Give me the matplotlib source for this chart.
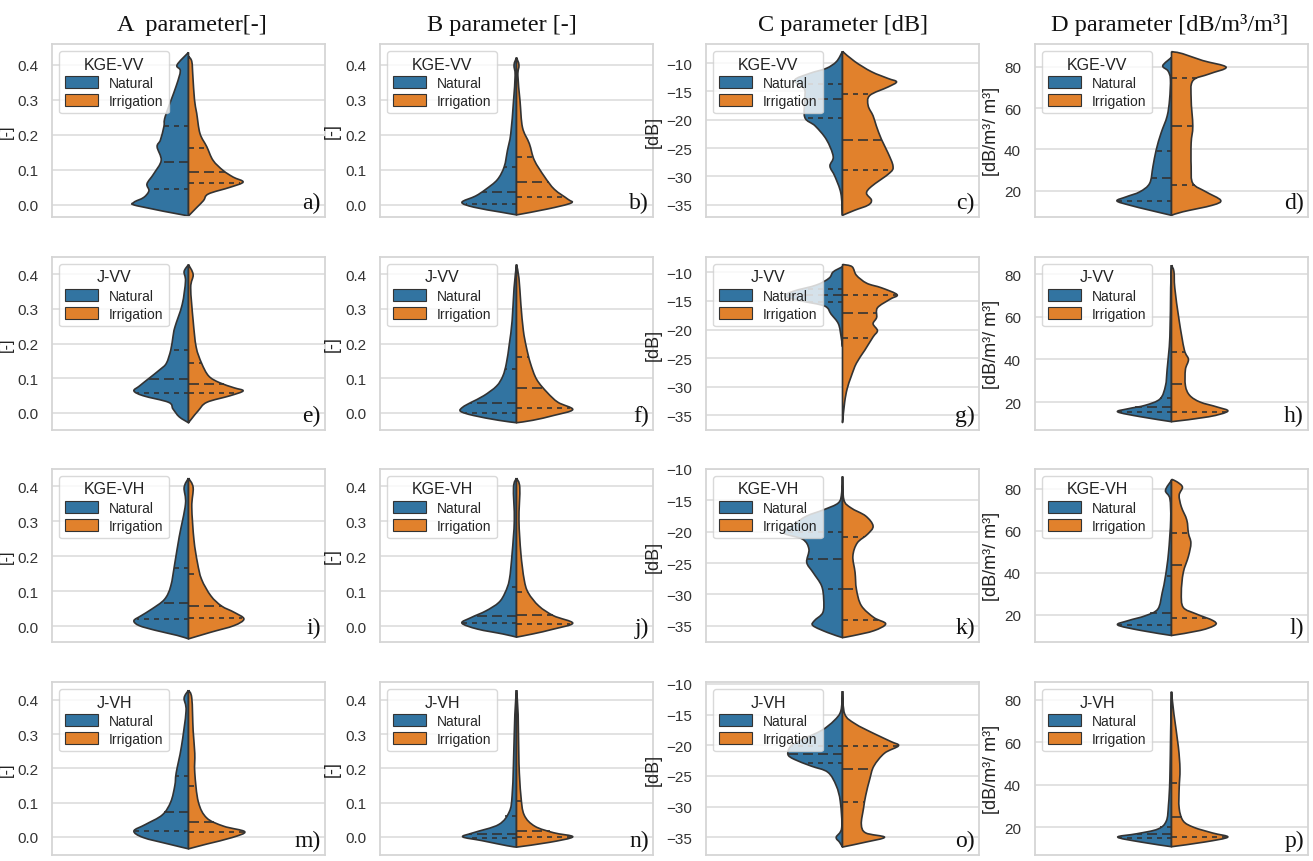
import numpy as np
import matplotlib
matplotlib.use("Agg")
import matplotlib.pyplot as plt
from matplotlib.patches import Patch, PathPatch
from matplotlib.path import Path
import seaborn as sns

sns.set_theme(style="whitegrid")
plt.rcParams['font.family'] = ['Liberation Sans', 'DejaVu Sans']

# ---------------- data: violin density profiles (value, relative density) ----------------
col_titles = ["A  parameter[-]", "B parameter [-]", "C parameter [dB]", "D parameter [dB/m³/m³]"]
row_legends = ["KGE-VV", "J-VV", "KGE-VH", "J-VH"]
groups = ["Natural", "Irrigation"]
ylabels = ["[-]", "[-]", "[dB]", "[dB/m³/ m³]"]
letters = list("abcdefghijklmnop")

# a) A, KGE-VV
a_nat_y = [0.436, 0.40, 0.383, 0.34, 0.253, 0.224, 0.185, 0.166, 0.127, 0.089, 0.06, 0.04, 0.021, 0.007, -0.003, -0.032]
a_nat_d = [0, 0.042, 0.03, 0.045, 0.085, 0.09, 0.103, 0.115, 0.10, 0.127, 0.152, 0.145, 0.164, 0.20, 0.188, 0]
a_nat_q = [0.044, 0.122, 0.225]
a_irr_y = [0.425, 0.41, 0.368, 0.30, 0.262, 0.204, 0.166, 0.127, 0.098, 0.079, 0.065, 0.05, 0.031, 0.012, -0.008, -0.032]
a_irr_d = [0, 0.012, 0.016, 0.022, 0.03, 0.042, 0.067, 0.09, 0.127, 0.164, 0.20, 0.152, 0.073, 0.055, 0.03, 0]
a_irr_q = [0.061, 0.094, 0.163]
# b) B, KGE-VV
b_nat_y = [0.421, 0.40, 0.37, 0.296, 0.203, 0.156, 0.109, 0.072, 0.044, 0.025, 0.007, -0.007, -0.021, -0.029]
b_nat_d = [0, 0.009, 0.005, 0.011, 0.021, 0.033, 0.045, 0.07, 0.113, 0.15, 0.20, 0.156, 0.058, 0]
b_nat_q = [0.002, 0.037, 0.107]
b_irr_y = [0.421, 0.40, 0.37, 0.296, 0.221, 0.175, 0.128, 0.081, 0.044, 0.016, 0.005, -0.012, -0.029]
b_irr_d = [0, 0.009, 0.005, 0.013, 0.022, 0.047, 0.065, 0.102, 0.139, 0.188, 0.20, 0.114, 0]
b_irr_q = [0.022, 0.065, 0.136]
# c) C, KGE-VV
c_nat_y = [-7.9, -9.7, -10.9, -11.8, -13.0, -14.5, -16.3, -19.6, -21.1, -23.5, -26.5, -28.2, -30.0, -33.0, -36.9]
c_nat_d = [0, 0.022, 0.059, 0.12, 0.175, 0.14, 0.138, 0.138, 0.10, 0.059, 0.034, 0.046, 0.028, 0.006, 0]
c_nat_q = [-19.7, -16.3, -13.6]
c_irr_y = [-7.9, -9.7, -11.5, -12.7, -13.3, -14.2, -15.7, -17.5, -19.3, -21.1, -23.5, -25.9, -28.2, -29.4, -31.8, -33.0, -34.2, -35.1, -36.0, -36.9]
c_irr_d = [0, 0.045, 0.106, 0.167, 0.198, 0.167, 0.10, 0.094, 0.112, 0.124, 0.143, 0.167, 0.185, 0.173, 0.106, 0.088, 0.106, 0.094, 0.045, 0]
c_irr_q = [-28.8, -23.5, -15.5]
# d) D, KGE-VV
d_nat_y = [84.5, 80.5, 78, 74, 64.2, 56.1, 48, 39.8, 31.7, 23.6, 19.5, 17.1, 15.1, 13, 10.6, 8.1]
d_nat_d = [0, 0.032, 0.013, 0.004, 0.007, 0.016, 0.038, 0.056, 0.068, 0.08, 0.116, 0.165, 0.20, 0.153, 0.08, 0]
d_nat_q = [15, 26, 39]
d_irr_y = [87.3, 87.1, 86.3, 83, 79.8, 76.5, 73.2, 64.3, 51.3, 43.2, 31.7, 23.6, 19.5, 15.4, 13, 9.8, 8.1]
d_irr_d = [0, 0.011, 0.041, 0.114, 0.20, 0.138, 0.078, 0.072, 0.078, 0.072, 0.072, 0.078, 0.126, 0.18, 0.15, 0.041, 0]
d_irr_q = [23, 51.5, 74.5]
# e) A, J-VV
e_nat_y = [0.428, 0.408, 0.38, 0.313, 0.247, 0.219, 0.181, 0.143, 0.125, 0.096, 0.077, 0.063, 0.049, 0.03, 0.011, -0.012, -0.029]
e_nat_d = [0, 0.016, 0.011, 0.023, 0.05, 0.057, 0.065, 0.081, 0.104, 0.15, 0.18, 0.20, 0.166, 0.073, 0.057, 0.034, 0]
e_nat_q = [0.058, 0.097, 0.182]
e_irr_y = [0.428, 0.399, 0.361, 0.266, 0.19, 0.143, 0.106, 0.087, 0.072, 0.063, 0.049, 0.03, 0.006, -0.017, -0.029]
e_irr_d = [0, 0.017, 0.008, 0.017, 0.028, 0.048, 0.074, 0.113, 0.167, 0.20, 0.152, 0.067, 0.036, 0.012, 0]
e_irr_q = [0.058, 0.082, 0.145]
# f) B, J-VV
f_nat_y = [0.428, 0.36, 0.266, 0.20, 0.143, 0.106, 0.077, 0.049, 0.03, 0.016, 0.004, -0.008, -0.022, -0.029]
f_nat_d = [0, 0.009, 0.016, 0.026, 0.037, 0.05, 0.073, 0.12, 0.166, 0.197, 0.205, 0.158, 0.065, 0]
f_nat_q = [0.0, 0.028, 0.125]
f_irr_y = [0.428, 0.389, 0.313, 0.238, 0.19, 0.143, 0.096, 0.058, 0.03, 0.009, -0.008, -0.022, -0.029]
f_irr_d = [0, 0.009, 0.016, 0.025, 0.036, 0.051, 0.074, 0.113, 0.152, 0.206, 0.136, 0.059, 0]
f_irr_q = [0.013, 0.07, 0.162]
# g) C, J-VV
g_nat_y = [-9.0, -9.9, -11.0, -12.2, -13.3, -14.2, -15.0, -15.9, -17.3, -19.0, -21.3, -23.0]
g_nat_d = [0, 0.034, 0.049, 0.095, 0.18, 0.21, 0.15, 0.065, 0.042, 0.015, 0.005, 0]
g_nat_q = [-15.2, -14.0, -12.9]
g_irr_y = [-8.6, -9.0, -10.5, -11.9, -12.7, -13.9, -14.7, -16.2, -17.9, -19.0, -20.2, -21.3, -23.6, -25.9, -28.2, -30.4, -32.7, -36.3]
g_irr_d = [0, 0.035, 0.051, 0.089, 0.143, 0.20, 0.174, 0.128, 0.125, 0.112, 0.128, 0.112, 0.082, 0.051, 0.032, 0.017, 0.008, 0]
g_irr_q = [-21.4, -17.1, -14.0]
# h) D, J-VV
h_nat_y = [84.3, 73.6, 50.6, 35.3, 27.7, 21.5, 18.5, 16.9, 15.4, 13.1, 10.8]
h_nat_d = [0, 0.003, 0.006, 0.016, 0.022, 0.042, 0.096, 0.158, 0.197, 0.112, 0]
h_nat_q = [15.3, 17.5, 22]
h_irr_y = [84.3, 81.2, 73.6, 58.3, 44.5, 40, 35.3, 27.7, 23.1, 20, 17.7, 15.7, 13.1, 10.8]
h_irr_d = [0, 0.009, 0.012, 0.028, 0.047, 0.062, 0.051, 0.051, 0.067, 0.105, 0.167, 0.206, 0.136, 0]
h_irr_q = [15.4, 28.7, 43.5]
# i) A, KGE-VH
i_nat_y = [0.424, 0.397, 0.35, 0.256, 0.181, 0.115, 0.077, 0.049, 0.03, 0.016, 0.002, -0.012, -0.026, -0.036]
i_nat_d = [0, 0.016, 0.011, 0.034, 0.05, 0.065, 0.088, 0.135, 0.174, 0.20, 0.181, 0.119, 0.042, 0]
i_nat_q = [0.022, 0.068, 0.167]
i_irr_y = [0.424, 0.397, 0.341, 0.247, 0.181, 0.134, 0.087, 0.058, 0.04, 0.021, 0.002, -0.017, -0.036]
i_irr_d = [0, 0.017, 0.012, 0.02, 0.033, 0.048, 0.082, 0.121, 0.167, 0.203, 0.167, 0.082, 0]
i_irr_q = [0.024, 0.057, 0.15]
# j) B, KGE-VH
j_nat_y = [0.424, 0.397, 0.303, 0.209, 0.134, 0.096, 0.068, 0.044, 0.025, 0.009, -0.008, -0.022, -0.031]
j_nat_d = [0, 0.011, 0.008, 0.016, 0.026, 0.042, 0.065, 0.112, 0.166, 0.20, 0.143, 0.05, 0]
j_nat_q = [0.008, 0.03, 0.113]
j_irr_y = [0.424, 0.397, 0.303, 0.209, 0.134, 0.096, 0.058, 0.03, 0.009, -0.008, -0.022, -0.031]
j_irr_d = [0, 0.012, 0.009, 0.016, 0.028, 0.043, 0.082, 0.136, 0.206, 0.136, 0.059, 0]
j_irr_q = [0.007, 0.031, 0.097]
# k) C, KGE-VH
k_nat_y = [-11.2, -13.8, -15.4, -16.5, -17.5, -18.8, -20.2, -21.2, -22.8, -24.9, -26.5, -28.6, -30.7, -32.9, -34.2, -35.0, -36.1, -36.9]
k_nat_d = [0, 0.003, 0.015, 0.069, 0.131, 0.177, 0.215, 0.146, 0.123, 0.131, 0.108, 0.077, 0.069, 0.072, 0.103, 0.108, 0.054, 0]
k_nat_q = [-29.1, -24.3, -20.1]
k_irr_y = [-11.2, -14.9, -16.2, -17.5, -19.1, -20.4, -21.8, -23.9, -26.5, -29.2, -31.8, -33.7, -34.7, -35.8, -36.6, -36.9]
k_irr_d = [0, 0.005, 0.031, 0.085, 0.112, 0.092, 0.054, 0.038, 0.046, 0.051, 0.069, 0.115, 0.158, 0.115, 0.038, 0]
k_irr_q = [-34.1, -29.1, -20.9]
# l) D, KGE-VH
l_nat_y = [84, 79.2, 75.3, 65.1, 49.4, 38.4, 30.5, 22.7, 19.5, 17.2, 15.1, 12.5, 10.1]
l_nat_d = [0, 0.022, 0.006, 0.003, 0.011, 0.022, 0.034, 0.05, 0.096, 0.158, 0.197, 0.112, 0]
l_nat_q = [15.2, 20.8, 38.5]
l_irr_y = [84.5, 83.3, 80.8, 76.9, 71.4, 65.1, 58.8, 54.1, 47.8, 40, 30.5, 23.5, 20.4, 17.2, 15.1, 12.5, 10.1]
l_irr_d = [0, 0.02, 0.04, 0.028, 0.036, 0.056, 0.062, 0.071, 0.062, 0.043, 0.036, 0.043, 0.09, 0.152, 0.16, 0.105, 0]
l_irr_q = [18.5, 43.8, 59]
# m) A, J-VH
m_nat_y = [0.428, 0.405, 0.367, 0.263, 0.187, 0.15, 0.102, 0.064, 0.036, 0.017, -0.002, -0.021, -0.035]
m_nat_d = [0, 0.016, 0.009, 0.026, 0.045, 0.05, 0.065, 0.096, 0.158, 0.20, 0.166, 0.073, 0]
m_nat_q = [0.018, 0.072, 0.177]
m_irr_y = [0.428, 0.405, 0.31, 0.244, 0.187, 0.102, 0.055, 0.031, 0.015, -0.002, -0.021, -0.035]
m_irr_d = [0, 0.012, 0.017, 0.023, 0.023, 0.036, 0.067, 0.129, 0.206, 0.16, 0.067, 0]
m_irr_q = [0.015, 0.042, 0.148]
# n) B, J-VH
n_nat_y = [0.428, 0.357, 0.215, 0.121, 0.074, 0.036, 0.012, 0.0, -0.011, -0.026, -0.03]
n_nat_d = [0, 0.006, 0.011, 0.016, 0.026, 0.065, 0.158, 0.197, 0.127, 0.034, 0]
n_nat_q = [-0.003, 0.007, 0.06]
n_irr_y = [0.428, 0.357, 0.215, 0.121, 0.064, 0.031, 0.012, 0.0, -0.016, -0.03]
n_irr_d = [0, 0.006, 0.009, 0.016, 0.028, 0.067, 0.136, 0.206, 0.121, 0]
n_irr_q = [-0.001, 0.016, 0.105]
# o) C, J-VH
o_nat_y = [-11.2, -14.4, -16.0, -17.6, -19.2, -20.2, -21.5, -22.3, -23.4, -24.4, -26.6, -29.2, -33.5, -35.0, -35.8, -36.6]
o_nat_d = [0, 0.006, 0.031, 0.077, 0.154, 0.19, 0.20, 0.177, 0.115, 0.054, 0.023, 0.008, 0.003, 0.023, 0.011, 0]
o_nat_q = [-22.9, -21.4, -20.1]
o_irr_y = [-11.2, -14.9, -16.5, -18.1, -19.4, -20.1, -21.3, -23.4, -25.5, -28.2, -30.3, -32.9, -34.3, -35.0, -35.8, -36.6]
o_irr_d = [0, 0.008, 0.046, 0.115, 0.177, 0.205, 0.154, 0.115, 0.10, 0.085, 0.077, 0.069, 0.085, 0.154, 0.085, 0]
o_irr_q = [-29.2, -23.9, -20.1]
# p) D, J-VH
p_nat_y = [83.8, 65.6, 42.8, 30.6, 23, 19.2, 17, 15.4, 13.1, 10.9]
p_nat_d = [0, 0.003, 0.006, 0.011, 0.019, 0.05, 0.127, 0.197, 0.112, 0]
p_nat_q = [15.2, 17.0, 20.0]
p_irr_y = [83.8, 73.2, 58, 47.4, 38.2, 29.1, 23, 20, 17.3, 15.4, 13.1, 10.9]
p_irr_d = [0, 0.009, 0.025, 0.031, 0.028, 0.028, 0.043, 0.082, 0.152, 0.206, 0.121, 0]
p_irr_q = [15.3, 25, 41]

# y-axis ranges per row/column
ylim_col12 = [(-0.035, 0.46), (-0.05, 0.45), (-0.045, 0.45), (-0.053, 0.452)]
ylim_col3 = [(-37.2, -6.6), (-37.6, -7.3), (-37.6, -10.0), (-37.9, -9.7)]
ylim_col4 = [(7.3, 91.0), (6.9, 88.1), (7.0, 89.4), (7.0, 88.4)]
ticks_col12 = [0.0, 0.1, 0.2, 0.3, 0.4]
ticks_col3 = [-35, -30, -25, -20, -15, -10]
ticks_col4 = [20, 40, 60, 80]

panels = [
    (a_nat_y, a_nat_d, a_nat_q, a_irr_y, a_irr_d, a_irr_q),
    (b_nat_y, b_nat_d, b_nat_q, b_irr_y, b_irr_d, b_irr_q),
    (c_nat_y, c_nat_d, c_nat_q, c_irr_y, c_irr_d, c_irr_q),
    (d_nat_y, d_nat_d, d_nat_q, d_irr_y, d_irr_d, d_irr_q),
    (e_nat_y, e_nat_d, e_nat_q, e_irr_y, e_irr_d, e_irr_q),
    (f_nat_y, f_nat_d, f_nat_q, f_irr_y, f_irr_d, f_irr_q),
    (g_nat_y, g_nat_d, g_nat_q, g_irr_y, g_irr_d, g_irr_q),
    (h_nat_y, h_nat_d, h_nat_q, h_irr_y, h_irr_d, h_irr_q),
    (i_nat_y, i_nat_d, i_nat_q, i_irr_y, i_irr_d, i_irr_q),
    (j_nat_y, j_nat_d, j_nat_q, j_irr_y, j_irr_d, j_irr_q),
    (k_nat_y, k_nat_d, k_nat_q, k_irr_y, k_irr_d, k_irr_q),
    (l_nat_y, l_nat_d, l_nat_q, l_irr_y, l_irr_d, l_irr_q),
    (m_nat_y, m_nat_d, m_nat_q, m_irr_y, m_irr_d, m_irr_q),
    (n_nat_y, n_nat_d, n_nat_q, n_irr_y, n_irr_d, n_irr_q),
    (o_nat_y, o_nat_d, o_nat_q, o_irr_y, o_irr_d, o_irr_q),
    (p_nat_y, p_nat_d, p_nat_q, p_irr_y, p_irr_d, p_irr_q),
]

# ---------------- styling ----------------
NAT_COLOR = '#3274a1'
IRR_COLOR = '#e1812c'
EDGE = '#333333'
W, H = 1313, 862
col_left = [52, 380, 706, 1035]
row_top = [45, 258, 470, 683]
ax_w, ax_h = 273, 173
title_x = [192, 502, 843, 1170]

fig = plt.figure(figsize=(W / 100, H / 100), dpi=100)


def half_path(y, d, side):
    """Smooth outline (cubic Bezier through the read points) closed along the centre line."""
    pts = np.column_stack([side * np.asarray(d, float), np.asarray(y, float)])
    n = len(pts)
    verts = [tuple(pts[0])]
    codes = [Path.MOVETO]
    for i in range(n - 1):
        p0 = pts[i - 1] if i > 0 else pts[i]
        p1, p2 = pts[i], pts[i + 1]
        p3 = pts[i + 2] if i + 2 < n else pts[i + 1]
        c1 = p1 + (p2 - p0) / 6.0
        c2 = p2 - (p3 - p1) / 6.0
        for cc in (c1, c2):
            if side * cc[0] < 0:
                cc[0] = 0.0
        verts += [tuple(c1), tuple(c2), tuple(p2)]
        codes += [Path.CURVE4] * 3
    verts.append(tuple(pts[0]))
    codes.append(Path.LINETO)
    return Path(verts, codes)


def draw_half(ax, y, d, q, side, color):
    y = np.asarray(y, float)
    d = np.asarray(d, float)
    patch = PathPatch(half_path(y, d, side), facecolor=color, edgecolor=EDGE,
                      linewidth=1.2, zorder=2, joinstyle='round')
    ax.add_patch(patch)
    order = np.argsort(y)
    qs = sorted(q)
    for k, qv in enumerate(qs):
        w = np.interp(qv, y[order], d[order])
        ls = (0, (6, 3)) if k == 1 else (0, (3, 3))
        ax.plot([0, side * w], [qv, qv], color=EDGE, lw=1.2, ls=ls, zorder=3)


for r in range(4):
    for c in range(4):
        idx = r * 4 + c
        left = col_left[c] / W
        bottom = 1 - (row_top[r] + ax_h) / H
        ax = fig.add_axes([left, bottom, ax_w / W, ax_h / H])
        ax.set_axisbelow(True)
        ny, nd, nq, iy, idd, iq = panels[idx]
        draw_half(ax, ny, nd, nq, -1, NAT_COLOR)
        draw_half(ax, iy, idd, iq, 1, IRR_COLOR)
        ax.set_xlim(-0.5, 0.5)
        ax.set_xticks([])
        if c < 2:
            ax.set_ylim(*ylim_col12[r])
            ax.set_yticks(ticks_col12)
            ax.set_yticklabels([f"{t:.1f}" for t in ticks_col12])
        elif c == 2:
            ax.set_ylim(*ylim_col3[r])
            ax.set_yticks(ticks_col3)
        else:
            ax.set_ylim(*ylim_col4[r])
            ax.set_yticks(ticks_col4)
        ax.tick_params(axis='y', labelsize=11, colors='#333333', pad=4)
        ax.set_ylabel(ylabels[c], fontsize=13 if c > 0 else 12, color='#222222', labelpad=3)
        if c == 0:
            ax.yaxis.set_label_coords(-0.14, 0.5)
        ax.grid(axis='y', color='#dddddd', lw=1.2)
        for s in ax.spines.values():
            s.set_color('#d5d5d5')
            s.set_linewidth(1.3)
        handles = [Patch(facecolor=NAT_COLOR, edgecolor=EDGE, lw=0.8, label=groups[0]),
                   Patch(facecolor=IRR_COLOR, edgecolor=EDGE, lw=0.8, label=groups[1])]
        leg = ax.legend(handles=handles, title=row_legends[r], loc='upper left',
                        fontsize=10, title_fontsize=11.5, handlelength=2.4,
                        handleheight=0.9, labelspacing=0.3, borderpad=0.4,
                        framealpha=0.8, edgecolor='#d0d0d0', fancybox=True)
        leg.get_title().set_color('#222222')
        ax.text(0.985, 0.025, letters[idx] + ")", transform=ax.transAxes,
                ha='right', va='bottom', fontsize=17, family='Liberation Serif',
                color='#111111', zorder=5)

for c in range(4):
    fig.text(title_x[c] / W, 1 - 25 / H, col_titles[c], ha='center', va='center',
             fontsize=17.5, family='Liberation Serif', color='#111111')

fig.savefig("out.png", dpi=100)
